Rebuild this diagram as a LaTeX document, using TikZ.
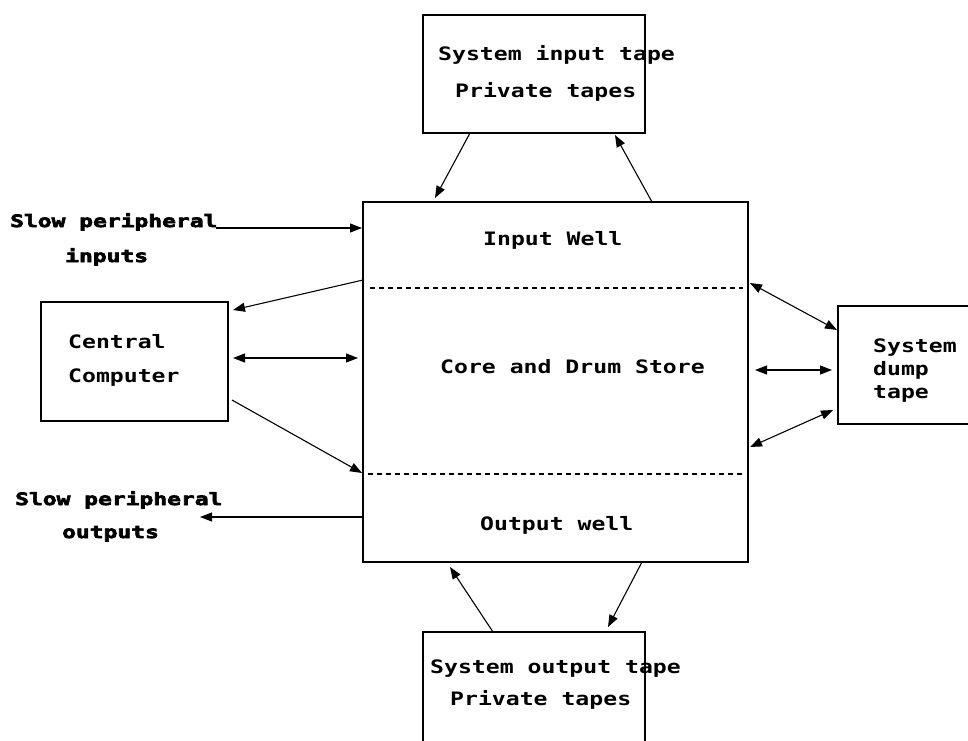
\documentclass[tikz,border=0pt]{standalone}
\usepackage{fontspec}
\usetikzlibrary{arrows.meta,calc}
\newfontfamily\fxfont[FakeStretch=1.25]{DejaVu Sans Mono}
\newfontfamily\fxheavy[FakeStretch=1.35,FakeBold=4]{DejaVu Sans Mono Bold}
\begin{document}
\begin{tikzpicture}[x=1pt,y=-1pt,
  box/.style={draw, line width=1.8pt, anchor=north west, inner sep=0pt, outer sep=0pt},
  lbl/.style={anchor=base west, inner sep=0pt, font=\fxfont\bfseries\fontsize{18.5}{22}\selectfont},
  heavy/.style={anchor=base west, inner sep=0pt, font=\fxheavy\fontsize{17}{20}\selectfont},
  conn/.style={line width=1.1pt, -{Triangle[length=12pt,width=9pt]}},
  dconn/.style={line width=1.1pt, {Triangle[length=12pt,width=9pt]}-{Triangle[length=12pt,width=9pt]}},
  sep/.style={line width=1.3pt, dash pattern=on 5pt off 4pt}]
\useasboundingbox[fill=white] (0,0) rectangle (968,740);

% boxes
\node[box, minimum width=222pt, minimum height=118pt] (top) at (423,15) {};
\node[box, minimum width=385pt, minimum height=360pt] (main) at (363,202) {};
\node[box, minimum width=187pt, minimum height=119pt] (cpu) at (41,302) {};
\node[box, minimum width=150pt, minimum height=118pt] (dump) at (838,306) {};
\node[box, minimum width=222pt, minimum height=140pt] (bot) at (423,632) {};

% separators
\draw[sep] ($(main.north west)+(7,86)$) -- ($(main.north east)+(-5,86)$);
\draw[sep] ($(main.north west)+(5,272)$) -- ($(main.north east)+(-5,272)$);

% texts
\node[lbl] (t1) at (438,60) {System input tape};
\node[lbl] (t2) at (455,97) {Private tapes};
\node[lbl] (iw) at (483,245) {Input Well};
\node[lbl] (cd) at (440,373) {Core and Drum Store};
\node[lbl] (ow) at (480,530) {Output well};
\node[lbl] (c1) at (68,348) {Central};
\node[lbl] (c2) at (68,382) {Computer};
\node[lbl] (d1) at (873,352) {System};
\node[lbl] (d2) at (873,375) {dump};
\node[lbl] (d3) at (873,398) {tape};
\node[lbl] (b1) at (430,673) {System output tape};
\node[lbl] (b2) at (450,705) {Private tapes};
\node[heavy] (si1) at (10,227) {Slow peripheral};
\node[heavy] (si2) at (65,262) {inputs};
\node[heavy] (so1) at (15,505) {Slow peripheral};
\node[heavy] (so2) at (62,538) {outputs};

\coordinate (sinstart) at (216,228);
\coordinate (soutend) at (200,517);

% connectors
\draw[conn] ($(top.south west)+(47,0)$) -- ($(main.north west)+(72,-4)$);
\draw[conn] ($(main.north west)+(289,0)$) -- ($(top.south west)+(192,2)$);
\draw[conn] (sinstart) -- ($(main.north west)+(-1,26)$);
\draw[conn] ($(main.north west)+(0,78)$) -- ($(cpu.north east)+(5,8)$);
\draw[dconn] ($(cpu.north east)+(5,56)$) -- ($(main.north west)+(-5,156)$);
\draw[conn] ($(cpu.north east)+(4,98)$) -- ($(main.north west)+(-1,271)$);
\draw[conn] ($(main.north west)+(0,315)$) -- (soutend);
\draw[dconn] ($(main.north east)+(2,81)$) -- ($(dump.north west)+(-1,24)$);
\draw[dconn] ($(main.north east)+(7,168)$) -- ($(dump.north west)+(-6,64)$);
\draw[dconn] ($(main.north east)+(2,245)$) -- ($(dump.north west)+(-5,104)$);
\draw[conn] ($(bot.north west)+(70,0)$) -- ($(main.south west)+(87,5)$);
\draw[conn] ($(main.south west)+(279,0)$) -- ($(bot.north west)+(185,-5)$);
\end{tikzpicture}
\end{document}
